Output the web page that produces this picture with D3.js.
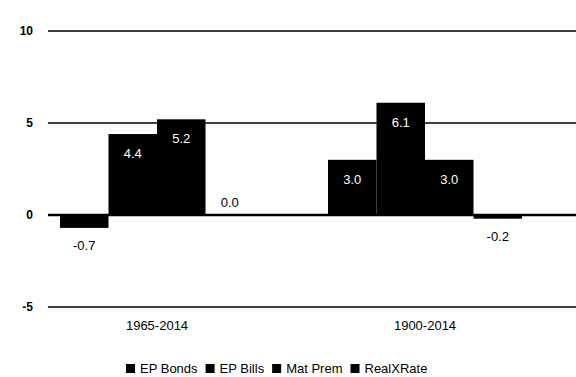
<!DOCTYPE html>
<html><head><meta charset="utf-8">
<script src="https://cdn.jsdelivr.net/npm/d3@7"></script>
<style>body{margin:0;background:#fff}svg{display:block;font-family:"Liberation Sans",Arial,sans-serif}</style>
</head><body>
<svg id="c" width="576" height="377"></svg>
<script>
const categories = ["1965-2014", "1900-2014"];
const series = ["EP Bonds", "EP Bills", "Mat Prem", "RealXRate"];
const values = [
  [-0.7, 4.4, 5.2, 0.0],
  [3.0, 6.1, 3.0, -0.2]
];
const yTicks = [10, 5, 0, -5];

const svg = d3.select("#c");
const y = d3.scaleLinear().domain([-5, 10]).range([307, 31]);
const x0 = d3.scaleBand().domain(categories).range([23, 559]).paddingInner(0.276).paddingOuter(0.138);
const x1 = d3.scaleBand().domain(series).range([0, x0.bandwidth()]);

// gridlines
svg.append("g").selectAll("line").data(yTicks).join("line")
  .attr("x1", 48).attr("x2", 576)
  .attr("y1", d => y(d)).attr("y2", d => y(d))
  .attr("stroke", "#000").attr("stroke-width", d => d === 0 ? 2.5 : 1.5);

// y axis labels
const yAxis = d3.axisLeft(y).tickValues(yTicks).tickSize(0).tickPadding(0).tickFormat(d => String(d));
const ga = svg.append("g").attr("transform", "translate(33,0)").call(yAxis);
ga.select(".domain").remove();
ga.selectAll("text").attr("font-size", 12).attr("font-weight", "bold").attr("fill", "#000")
  .attr("font-family", "Liberation Sans, Arial, sans-serif");

// bars
const groups = svg.append("g").selectAll("g").data(categories).join("g")
  .attr("transform", d => `translate(${x0(d)},0)`);
groups.selectAll("rect").data((d, i) => values[i].map((v, j) => ({s: series[j], v})))
  .join("rect")
  .attr("x", d => x1(d.s)).attr("width", x1.bandwidth())
  .attr("y", d => y(Math.max(0, d.v))).attr("height", d => Math.abs(y(d.v) - y(0)))
  .attr("fill", "#000");

groups.selectAll("text").data((d, i) => values[i].map((v, j) => ({s: series[j], v})))
  .join("text")
  .attr("x", d => x1(d.s) + x1.bandwidth() / 2)
  .attr("y", d => d.v > 0.5 ? y(d.v) + 24 : d.v < 0 ? y(d.v) + 22 : y(0) - 8)
  .attr("text-anchor", "middle")
  .attr("font-size", 13)
  .attr("fill", d => d.v > 0.5 ? "#fff" : "#000")
  .text(d => d.v.toFixed(1));

// x axis labels
const xAxis = d3.axisBottom(x0).tickSize(0).tickPadding(0);
const gx = svg.append("g").attr("transform", "translate(0,321)").call(xAxis);
gx.select(".domain").remove();
gx.selectAll("text").attr("font-size", 13).attr("fill", "#000")
  .attr("font-family", "Liberation Sans, Arial, sans-serif");

// legend
const lg = svg.append("g").attr("font-size", 13);
let lx = 126;
series.forEach(s => {
  lg.append("rect").attr("x", lx).attr("y", 364).attr("width", 9).attr("height", 9).attr("fill", "#000");
  const t = lg.append("text").attr("x", lx + 14).attr("y", 373).attr("fill", "#000").text(s);
  lx += 14 + t.node().getComputedTextLength() + 8;
});
</script>
</body></html>
